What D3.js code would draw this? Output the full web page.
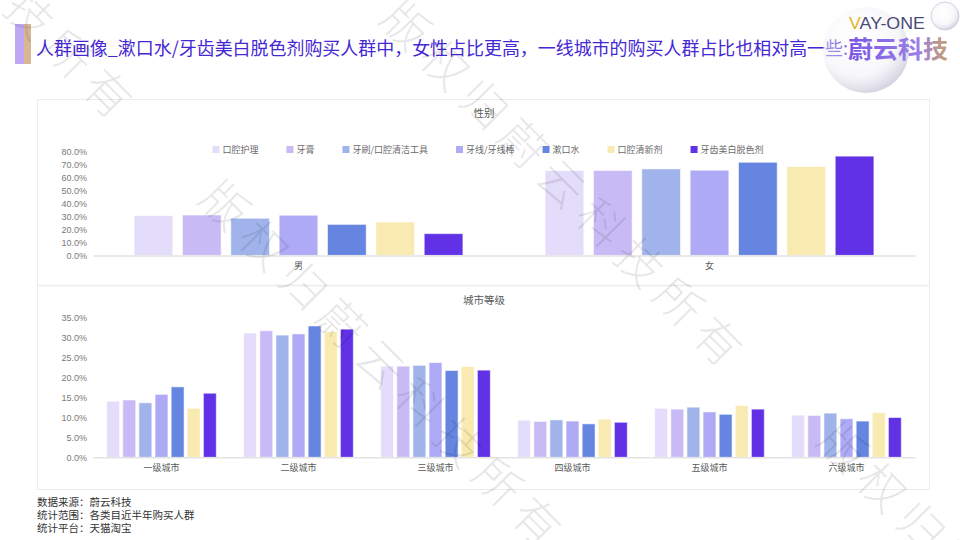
<!DOCTYPE html>
<html><head><meta charset="utf-8">
<script src="https://cdn.jsdelivr.net/npm/d3@7/dist/d3.min.js"></script>
<style>
html,body{margin:0;padding:0;background:#fff;}
svg{display:block;font-family:"Noto Sans CJK SC","Noto Sans",sans-serif;}
</style></head>
<body><svg id="c" width="960" height="540"></svg>
<script>
// ---------- data ----------
const seriesNames = ["口腔护理","牙膏","牙刷/口腔清洁工具","牙线/牙线棒","漱口水","口腔清新剂","牙齿美白脱色剂"];
const seriesColors = ["#e3dcfa","#c8bbf5","#a0b4eb","#aeaaf5","#6685e0","#f8eab0","#6131e6"];
const genderCats = ["男","女"];
const genderMale   = [30.5,31.0,28.5,30.8,23.8,25.6,16.7];
const genderFemale = [65.1,65.2,66.4,65.4,71.5,68.2,76.2];
const genderTicks = [0,10,20,30,40,50,60,70,80];
const cityCats = ["一级城市","二级城市","三级城市","四级城市","五级城市","六级城市"];
const cityTier1 = [14.1,14.4,13.7,15.8,17.7,12.3,16.1];
const cityTier2 = [31.2,31.8,30.7,31.0,33.0,31.6,32.2];
const cityTier3 = [22.9,22.9,23.1,23.8,21.8,22.8,21.9];
const cityTier4 = [9.3,9.0,9.4,9.1,8.4,9.6,8.8];
const cityTier5 = [12.3,12.1,12.6,11.4,10.8,13.0,12.1];
const cityTier6 = [10.6,10.5,11.1,9.7,9.1,11.2,10.0];
const cityTicks = [0,5,10,15,20,25,30,35];
const titleText = "人群画像_漱口水/牙齿美白脱色剂购买人群中，女性占比更高，一线城市的购买人群占比也相对高一些:";
const footerLines = ["数据来源：蔚云科技","统计范围：各类目近半年购买人群","统计平台：天猫淘宝"];

const genderData = [genderMale, genderFemale];
const cityData = [cityTier1,cityTier2,cityTier3,cityTier4,cityTier5,cityTier6];

const svg = d3.select("#c");
const defs = svg.append("defs");

// ---------- header ----------
svg.append("rect").attr("x",15).attr("y",24).attr("width",10).attr("height",40).attr("fill","#bfa8f3");
svg.append("rect").attr("x",24).attr("y",24).attr("width",7).attr("height",40).attr("fill","#d8b594");
svg.append("text").attr("x",36).attr("y",55).attr("font-size",18).attr("fill","#4527d4")
  .attr("textLength",812).attr("lengthAdjust","spacingAndGlyphs").text(titleText);

// logo
const rg = defs.append("radialGradient").attr("id","bub").attr("cx","40%").attr("cy","35%").attr("r","65%");
rg.append("stop").attr("offset","0%").attr("stop-color","#ffffff").attr("stop-opacity",0.2);
rg.append("stop").attr("offset","70%").attr("stop-color","#f1f0f6").attr("stop-opacity",0.6);
rg.append("stop").attr("offset","100%").attr("stop-color","#d4d2e0").attr("stop-opacity",0.9);
svg.append("circle").attr("cx",866).attr("cy",50).attr("r",43).attr("fill","url(#bub)");
svg.append("circle").attr("cx",945).attr("cy",16).attr("r",14).attr("fill","url(#bub)").attr("stroke","#c9c7dc").attr("stroke-width",0.8);
const lg = defs.append("linearGradient").attr("id","lgo").attr("x1","0").attr("x2","1");
lg.append("stop").attr("offset","0%").attr("stop-color","#7a55e4");
lg.append("stop").attr("offset","70%").attr("stop-color","#9a7fe6");
lg.append("stop").attr("offset","100%").attr("stop-color","#c9a16a");
const vt = svg.append("text").attr("x",849).attr("y",29).attr("font-size",16).attr("font-family","Liberation Sans, Arial").attr("textLength",76).attr("lengthAdjust","spacingAndGlyphs");
vt.append("tspan").attr("fill","#e2b520").text("V");
vt.append("tspan").attr("fill","#4b4a78").text("AY-ONE");
svg.append("text").attr("x",848).attr("y",58).attr("font-size",24).attr("font-weight",700)
  .attr("fill","url(#lgo)").attr("textLength",100).attr("lengthAdjust","spacingAndGlyphs").text("蔚云科技");

// ---------- panels ----------
svg.append("rect").attr("x",37.5).attr("y",99.5).attr("width",892).attr("height",390).attr("fill","none").attr("stroke","#ececec");
svg.append("line").attr("x1",37.5).attr("x2",929.5).attr("y1",285.5).attr("y2",285.5).attr("stroke","#ececec").attr("stroke-width",1.5);

const x0 = 93, x1 = 915;
const fmt = d => d.toFixed(1) + "%";

function drawChart(cats, data, ticks, yTop, yBase, title, titleY) {
  const g = svg.append("g");
  const y = d3.scaleLinear().domain([0, ticks[ticks.length-1]]).range([yBase, yTop]);
  const xb = d3.scaleBand().domain(cats).range([x0, x1]).paddingInner(0.2).paddingOuter(0.1);
  const xi = d3.scaleBand().domain(d3.range(seriesNames.length)).range([0, xb.bandwidth()]).paddingInner(0.2);
  g.append("text").attr("x",484).attr("y",titleY).attr("text-anchor","middle").attr("font-size",10.5).attr("fill","#595959").text(title);
  const ya = d3.axisLeft(y).tickValues(ticks).tickFormat(fmt).tickSize(0).tickPadding(0);
  const yg = g.append("g").attr("transform",`translate(87,0)`).call(ya);
  yg.select(".domain").remove();
  yg.selectAll("text").attr("font-size",9).attr("fill","#7a7a7a").attr("font-family","Liberation Sans, Arial");
  cats.forEach((c, ci) => {
    g.selectAll(null).data(data[ci]).enter().append("rect")
      .attr("x", (d,i) => xb(c) + xi(i))
      .attr("width", xi.bandwidth())
      .attr("y", d => y(d))
      .attr("height", d => yBase - y(d))
      .attr("fill", (d,i) => seriesColors[i])
      .attr("stroke","#ffffff").attr("stroke-opacity",0.55).attr("stroke-width",1);
  });
  const xa = d3.axisBottom(xb).tickSize(0).tickPadding(7);
  const xg = g.append("g").attr("transform",`translate(0,${yBase})`).call(xa);
  xg.select(".domain").attr("stroke","#e3e3e3").attr("stroke-width",1.5);
  xg.selectAll("text").attr("font-size",9).attr("fill","#595959").attr("font-family","Noto Sans CJK SC");
  return g;
}

drawChart(genderCats, genderData, genderTicks, 151.2, 255.4, "性别", 117);
drawChart(cityCats, cityData, cityTicks, 318, 457.3, "城市等级", 304);

// legend
const leg = svg.append("g");
let lx = 0;
seriesNames.forEach((n,i) => {
  const it = leg.append("g").attr("transform",`translate(${lx},0)`);
  it.append("rect").attr("x",0).attr("y",-7).attr("width",7).attr("height",7).attr("fill",seriesColors[i]);
  const t = it.append("text").attr("x",10).attr("y",0).attr("font-size",9).attr("fill","#6a6a6a").text(n);
  lx += 10 + t.node().getComputedTextLength() + 28;
});
const legW = lx - 28;
leg.attr("transform",`translate(${488 - legW/2},153)`);

// footer
footerLines.forEach((t,i) => {
  svg.append("text").attr("x",37).attr("y",506 + i*13).attr("font-size",10.5).attr("fill","#333").text(t);
});

// watermarks
const wm = "版权归蔚云科技所有";
const wmStarts = [[227,203],[408,23],[-202,-225],[845,445]];
const wmg = svg.append("g").attr("pointer-events","none");
wmStarts.forEach(p => {
  for (let k = 0; k < wm.length; k++) {
    const cx = p[0] + k*39, cy = p[1] + k*39.5;
    if (cx < -40 || cx > 1000 || cy < -40 || cy > 580) continue;
    wmg.append("text").attr("x",cx).attr("y",cy).attr("text-anchor","middle").attr("dominant-baseline","central")
      .attr("transform",`rotate(45,${cx},${cy})`)
      .attr("font-size",46).attr("font-weight",300).attr("fill","#000").attr("fill-opacity",0.1).text(wm[k]);
  }
});
</script></body></html>
